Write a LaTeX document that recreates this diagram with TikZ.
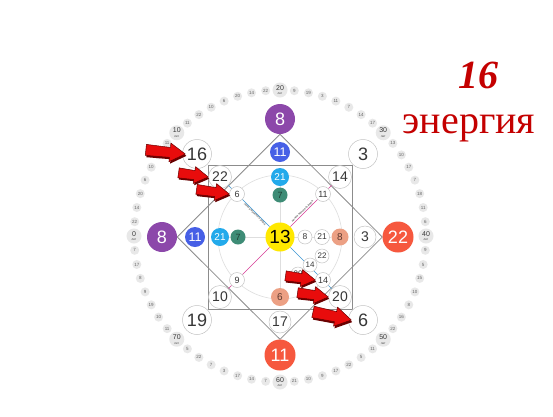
\documentclass[tikz,border=0pt]{standalone}
\usepackage{fontspec}
\setmainfont{Liberation Sans}
\newfontfamily\titlefont{Liberation Serif}
\usetikzlibrary{backgrounds,calc}
\definecolor{mpurple}{RGB}{140,72,170}
\definecolor{mblue}{RGB}{70,95,230}
\definecolor{mcyan}{RGB}{35,170,235}
\definecolor{mteal}{RGB}{62,140,118}
\definecolor{tealtext}{RGB}{30,62,52}
\definecolor{myellow}{RGB}{255,232,0}
\definecolor{mred}{RGB}{246,88,62}
\definecolor{msalmon}{RGB}{236,160,132}
\definecolor{salmtext}{RGB}{95,60,50}
\definecolor{mtitle}{RGB}{196,0,0}
\definecolor{mline}{RGB}{140,140,140}
\definecolor{mlight}{RGB}{222,222,222}
\definecolor{mborder}{RGB}{195,195,195}
\definecolor{mtext}{RGB}{55,55,55}
\definecolor{mdot}{RGB}{232,232,232}
\definecolor{mdottext}{RGB}{100,100,100}
\definecolor{mlblue}{RGB}{60,150,210}
\definecolor{mpink}{RGB}{215,60,150}
\definecolor{arrred}{RGB}{232,12,12}
\definecolor{arrdark}{RGB}{105,0,0}
\tikzset{
  ball/.style={circle,inner sep=0pt,text=white},
  wball/.style={circle,inner sep=0pt,fill=white,draw=mborder,line width=0.5pt,text=mtext},
  fs/.style={font=\fontsize{#1}{#1}\selectfont},
  sz/.style={minimum size=#1},
  ringdot/.style={circle,inner sep=0pt,minimum size=9pt,fill=mdot,text=mdottext,font=\fontsize{4.5}{4.5}\selectfont},
  agedot/.style={circle,inner sep=0pt,minimum size=15pt,fill=mdot,text=mtext,align=center,font=\fontsize{7}{7}\selectfont},
  linelbl/.style={sloped,inner sep=0.6pt,text=mtext,font=\fontsize{3}{3}\selectfont},
  redarrow/.pic={
    \fill[arrdark,shift={(1.2,1.6)}] (0,0) -- (-14,-8.5) -- (-14,-4.5) -- (-#1,-5) -- (-#1,5) -- (-14,4.5) -- (-14,8.5) -- cycle;
    \draw[arrdark,fill=arrred,line width=0.5pt,line join=round] (0,0) -- (-14,-8.5) -- (-14,-4.5) -- (-#1,-5) -- (-#1,5) -- (-14,4.5) -- (-14,8.5) -- cycle;
  }
}
\begin{document}
\begin{tikzpicture}[x=1pt,y=-1pt]
\useasboundingbox (0,0) rectangle (553,416);

% outer ring of ages
\foreach \v [count=\i] in {22,14,20,6,10,22,11, 11,22,10,6,20,14,22, 9,19,3,11,7,14,17, 13,10,17,7,18,11,6, 9,5,15,10,8,16,22, 11,5,22,17,9,10,21, 7,14,17,3,7,22,5, 11,10,19,9,8,17,7}{
  \pgfmathsetmacro\ang{180-(\i+int((\i-1)/7))*5.625}
  \node[ringdot] (p\i) at ({280+146*cos(\ang)},{236-146*sin(\ang)}) {\v};
}
\foreach \a [count=\j from 0] in {0,10,20,30,40,50,60,70}{
  \pgfmathsetmacro\ang{180-45*\j}
  \node[agedot] (a\j) at ({280+146*cos(\ang)},{236-146*sin(\ang)}) {\a\\[-2.2pt]{\fontsize{3}{3}\selectfont лет}};
}

% outer points
\node[ball,fill=mpurple,sz=30pt,fs=18] (t8) at (280,119) {8};
\node[ball,fill=mpurple,sz=30pt,fs=18] (l8) at (162,237) {8};
\node[ball,fill=mred,sz=31pt,fs=18] (r22) at (398,237) {22};
\node[ball,fill=mred,sz=31pt,fs=18] (b11) at (280,355) {11};
% corners
\node[wball,sz=29pt,fs=18] (c16) at (197,154) {16};
\node[wball,sz=29pt,fs=18] (c3) at (363,154) {3};
\node[wball,sz=29pt,fs=18] (c6) at (363,320) {6};
\node[wball,sz=29pt,fs=18] (c19) at (197,320) {19};
% second level
\node[ball,fill=mblue,sz=20pt,fs=12.5] (t11) at (280,152) {11};
\node[ball,fill=mblue,sz=20pt,fs=12.5] (l11) at (195,237) {11};
\node[wball,sz=22pt,fs=14] (r3) at (365,237) {3};
\node[wball,sz=22pt,fs=14] (b17) at (280,322) {17};
% corner second
\node[wball,sz=23pt,fs=14] (s22) at (220,177) {22};
\node[wball,sz=23pt,fs=14] (s14) at (340,177) {14};
\node[wball,sz=23pt,fs=14] (s10) at (220,297) {10};
\node[wball,sz=23pt,fs=14] (s20) at (340,297) {20};
% third level
\node[ball,fill=mcyan,sz=18pt,fs=10] (t21) at (280,177) {21};
\node[ball,fill=mcyan,sz=18pt,fs=10] (l21) at (220,237) {21};
\node[ball,fill=msalmon,sz=17pt,fs=10,text=salmtext] (r8) at (340,237) {8};
\node[ball,fill=msalmon,sz=18pt,fs=10,text=salmtext] (b6) at (280,297) {6};
% fourth level
\node[ball,fill=mteal,sz=15pt,fs=9,text=tealtext] (t7) at (280,195) {7};
\node[ball,fill=mteal,sz=15pt,fs=9,text=tealtext] (l7) at (238,237) {7};
% centre
\node[ball,fill=myellow,sz=29pt,fs=19,text=black] (c13) at (280,237) {13};
% diagonals
\node[wball,sz=15pt,fs=9] (d6) at (237,194) {6};
\node[wball,sz=15pt,fs=9] (d11) at (323,194) {11};
\node[wball,sz=15pt,fs=9] (d9) at (237,280) {9};
% inner right
\node[wball,sz=14pt,fs=8.5] (w8) at (305,237) {8};
\node[wball,sz=15pt,fs=8.5] (w21) at (322,237) {21};
\node[wball,sz=14pt,fs=8] (w22) at (322,256) {22};
\node[wball,sz=14pt,fs=8] (w20) at (298,274) {20};
\node[wball,sz=14pt,fs=8] (w14) at (310,265) {14};
\node[wball,sz=15pt,fs=9] (d14) at (323,280) {14};

% title
\node[anchor=base,text=mtitle,inner sep=0pt,font=\titlefont\bfseries\itshape\fontsize{40}{40}\selectfont] (tnum) at (478,88) {16};
\node[anchor=base,text=mtitle,inner sep=0pt,font=\titlefont\fontsize{40}{40}\selectfont] (tword) at (469,133) {энергия};

\begin{scope}[on background layer]
  \fill[white] (0,0) rectangle (553,416);
  \draw[mlight,line width=0.6pt] (c13) circle[radius=62pt];
  \draw[mlight,line width=0.6pt] (t21) -- (b6);
  \draw[mlight,line width=0.6pt] (l21) -- (r8);
  \draw[mline,line width=0.8pt] (208,165) rectangle (352,309);
  \draw[mline,line width=0.8pt] (t8.south) -- (r22.west) -- (b11.north) -- (l8.east) -- cycle;
  \draw[mlblue,line width=0.6pt] (s22) -- (c13) -- (s20);
  \draw[mpink,line width=0.6pt] (s14) -- (c13) -- (s10);
  \path (d6) -- node[linelbl,below] {линия мужского рода} (c13);
  \path (c13) -- node[linelbl,above] {линия женского рода} (d11);
\end{scope}

% red arrows
\pic[rotate=-6,scale=1.1] at ($(c16.west)+(3,0)$) {redarrow=36};
\pic[rotate=-8] at (s22.west) {redarrow=30};
\pic[rotate=-8] at (d6.west) {redarrow=33};
\pic[rotate=-8] at (d14.west) {redarrow=30};
\pic[rotate=-8] at (s20.west) {redarrow=31};
\pic[rotate=-12,scale=1.15] at ($(c6.west)+(3,0)$) {redarrow=34};
\end{tikzpicture}
\end{document}
